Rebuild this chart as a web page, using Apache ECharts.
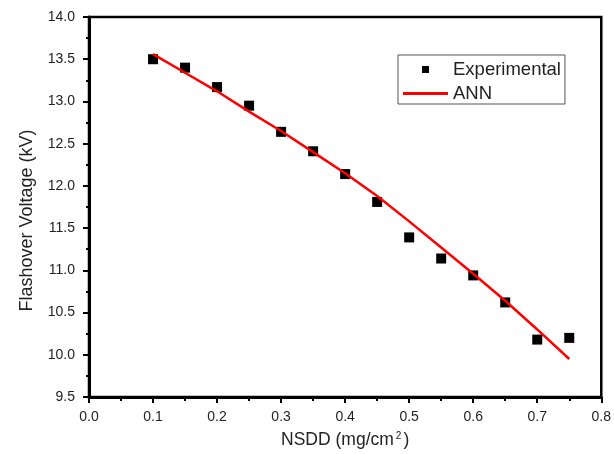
<!DOCTYPE html>
<html>
<head>
<meta charset="utf-8">
<script src="https://cdn.jsdelivr.net/npm/echarts@6/dist/echarts.min.js"></script>
<style>
  html, body { margin: 0; padding: 0; background: #fff; }
  #chart { width: 614px; height: 454px; }
</style>
</head>
<body>
<div id="chart"></div>
<script>
// NSDD levels (mg/cm²)
const nsdd = [0.10, 0.15, 0.20, 0.25, 0.30, 0.35, 0.40, 0.45, 0.50, 0.55, 0.60, 0.65, 0.70, 0.75];
// Measured flashover voltage (kV)
const experimental = [13.50, 13.40, 13.17, 12.95, 12.64, 12.41, 12.14, 11.81, 11.39, 11.14, 10.94, 10.62, 10.18, 10.20];
// ANN model prediction (kV)
const ann = [13.56, 13.34, 13.12, 12.88, 12.65, 12.40, 12.15, 11.88, 11.58, 11.27, 10.96, 10.64, 10.30, 9.95];

const font = 'Liberation Sans, Arial, sans-serif';
const ink = '#222';

const chart = echarts.init(document.getElementById('chart'), null, { renderer: 'canvas' });

chart.setOption({
  backgroundColor: '#fff',
  animation: false,
  grid: {
    left: 89, right: 9, top: 17, bottom: 56,
    show: true, borderColor: '#000', borderWidth: 2.5, backgroundColor: 'transparent'
  },
  legend: {
    orient: 'vertical',
    left: 398, top: 55,
    padding: [5, 4, 1, 5],
    itemGap: 5,
    itemWidth: 45, itemHeight: 7,
    itemTextGap: 5,
    borderColor: '#555', borderWidth: 1,
    textStyle: { fontFamily: font, fontSize: 18.5, color: ink },
    data: [
      { name: 'Experimental', icon: 'path://M0,0H1V1H0Z' },
      { name: 'ANN', icon: 'path://M0,0H45V3H0Z' }
    ]
  },
  xAxis: {
    type: 'value',
    min: 0, max: 0.8, interval: 0.1,
    name: 'NSDD (mg/cm{sup|2})',
    nameLocation: 'middle',
    nameGap: 34,
    nameTextStyle: {
      fontFamily: font, fontSize: 17.5, color: ink,
      rich: { sup: { fontFamily: font, fontSize: 10, color: ink, verticalAlign: 'top', padding: [0, 2, 8, 2] } }
    },
    axisLine: { show: true, onZero: false, lineStyle: { color: '#000', width: 3 } },
    axisTick: { show: true, inside: false, length: 6, lineStyle: { color: '#000', width: 2 } },
    minorTick: { show: true, splitNumber: 2, length: 4, lineStyle: { color: '#000', width: 2 } },
    axisLabel: {
      margin: 13, fontFamily: font, fontSize: 14, color: ink,
      formatter: v => v.toFixed(1)
    },
    splitLine: { show: false }
  },
  yAxis: {
    type: 'value',
    min: 9.5, max: 14, interval: 0.5,
    name: 'Flashover Voltage (kV)',
    nameLocation: 'middle',
    nameGap: 53,
    nameTextStyle: { fontFamily: font, fontSize: 18, color: ink, padding: [0, 27, 0, 0] },
    axisLine: { show: true, onZero: false, lineStyle: { color: '#000', width: 3 } },
    axisTick: { show: true, inside: false, length: 6, lineStyle: { color: '#000', width: 2 } },
    minorTick: { show: true, splitNumber: 2, length: 3, lineStyle: { color: '#000', width: 2 } },
    axisLabel: {
      margin: 14, fontFamily: font, fontSize: 14, color: ink,
      formatter: v => v.toFixed(1)
    },
    splitLine: { show: false }
  },
  series: [
    {
      name: 'Experimental',
      type: 'scatter',
      symbol: 'rect',
      symbolSize: 10,
      itemStyle: { color: '#000', opacity: 1 },
      data: nsdd.map((x, i) => [x, experimental[i]]),
      z: 3
    },
    {
      name: 'ANN',
      type: 'line',
      showSymbol: false,
      symbol: 'none',
      lineStyle: { color: '#ff0000', width: 2.5 },
      itemStyle: { color: '#ff0000' },
      data: nsdd.map((x, i) => [x, ann[i]]),
      z: 4
    }
  ]
});
</script>
</body>
</html>
